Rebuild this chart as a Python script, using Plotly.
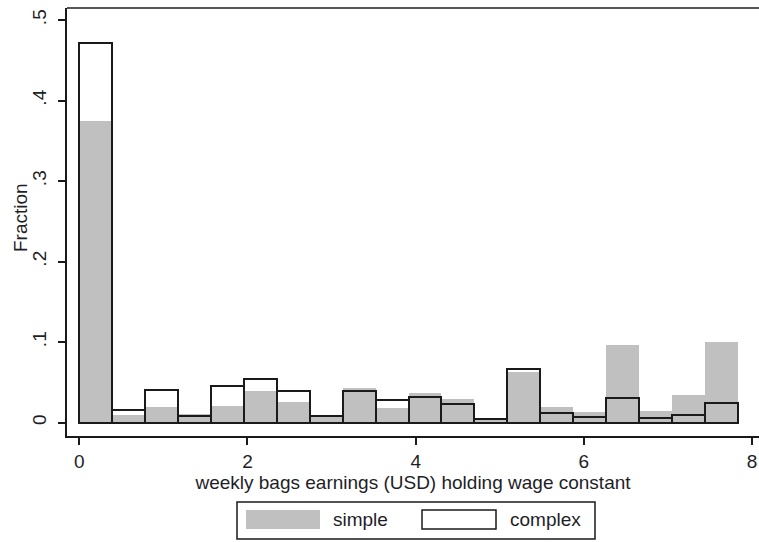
import plotly.graph_objects as go

# ---- data ----
BIN_W = 0.3915
n_bins = 20
bin_left = [round(i * BIN_W, 4) for i in range(n_bins)]

simple = [0.375, 0.0095, 0.019, 0.0105, 0.021, 0.0395, 0.026, 0.0085, 0.0425, 0.018,
          0.0365, 0.029, 0.003, 0.063, 0.019, 0.013, 0.096, 0.0147, 0.0345, 0.1005]
complex_ = [0.472, 0.0152, 0.040, 0.0085, 0.045, 0.0536, 0.039, 0.0085, 0.0387, 0.0275,
            0.032, 0.0233, 0.004, 0.067, 0.0118, 0.0068, 0.030, 0.0052, 0.009, 0.024]

y_ticks = [0, 0.1, 0.2, 0.3, 0.4, 0.5]
y_tick_text = ["0", ".1", ".2", ".3", ".4", ".5"]
x_ticks = [0, 2, 4, 6, 8]

FONT = "Liberation Sans, Arial, sans-serif"
TXT = "#1e1e28"
GRAY = "#c0c0c0"

fig = go.Figure()
fig.add_trace(go.Bar(x=bin_left, y=simple, width=BIN_W, offset=0, name="simple",
                     marker=dict(color=GRAY, line=dict(width=0))))
fig.add_trace(go.Bar(x=bin_left, y=complex_, width=BIN_W, offset=0, name="complex",
                     marker=dict(color="rgba(0,0,0,0)", line=dict(color="#1a1a1a", width=2))))

# body margin is removed (post_script below), so the figure sits at (0, 0)
W, H = 759, 542
L, R, T, B = 67, 0, 8, 106
pw, ph = W - L - R, H - T - B

def px(x):
    return (x - L) / pw

def py(y):
    return (H - B - y) / ph

shapes = [
    # top frame line
    dict(type="line", xref="paper", yref="paper", x0=0, x1=1, y0=1, y1=1,
         line=dict(color="#555555", width=2)),
    # legend box
    dict(type="rect", xref="paper", yref="paper", x0=px(237), x1=px(595), y0=py(502), y1=py(539),
         line=dict(color="#1a1a1a", width=1.5), fillcolor="white"),
    dict(type="rect", xref="paper", yref="paper", x0=px(246), x1=px(320), y0=py(510), y1=py(529),
         line=dict(width=0), fillcolor=GRAY),
    dict(type="rect", xref="paper", yref="paper", x0=px(422), x1=px(496), y0=py(510), y1=py(529),
         line=dict(color="#1a1a1a", width=1.5), fillcolor="white"),
]
annotations = [
    dict(text="simple", xref="paper", yref="paper", x=px(331), y=py(519.5), xanchor="left",
         yanchor="middle", showarrow=False, font=dict(family=FONT, size=19, color=TXT)),
    dict(text="complex", xref="paper", yref="paper", x=px(508), y=py(519.5), xanchor="left",
         yanchor="middle", showarrow=False, font=dict(family=FONT, size=19, color=TXT)),
    dict(text="Fraction", xref="paper", yref="paper", x=px(20), y=py(218), xanchor="center",
         yanchor="middle", textangle=-90, showarrow=False,
         font=dict(family=FONT, size=19, color=TXT)),
]

fig.update_layout(
    width=W, height=H,
    margin=dict(l=L, r=R, t=T, b=B, pad=0),
    paper_bgcolor="white", plot_bgcolor="white",
    barmode="overlay", bargap=0,
    showlegend=False,
    font=dict(family=FONT, size=19, color=TXT),
    shapes=shapes, annotations=annotations,
    xaxis=dict(range=[-0.146, 8.082], tickvals=x_ticks, ticks="outside", ticklen=7,
               tickwidth=1.5, tickcolor="#1a1a1a", showline=True, linecolor="#1a1a1a",
               linewidth=2, showgrid=False, zeroline=False,
               tickfont=dict(size=19, color=TXT),
               title=dict(text="weekly bags earnings (USD) holding wage constant",
                          font=dict(size=19, color=TXT), standoff=0)),
    yaxis=dict(range=[-0.0167, 0.515], tickvals=y_ticks, ticktext=y_tick_text,
               tickangle=-90, ticks="outside", ticklen=7, tickwidth=1.5,
               tickcolor="#1a1a1a", showline=True, linecolor="#1a1a1a", linewidth=1.5,
               showgrid=False, zeroline=False, ticklabelstandoff=5,
               tickfont=dict(size=19, color=TXT)),
)

fig.write_html(
    "out.html",
    config={"displayModeBar": False},
    post_script="document.body.style.margin='0';document.body.style.overflow='hidden';"
                "document.documentElement.style.overflow='hidden';",
)
